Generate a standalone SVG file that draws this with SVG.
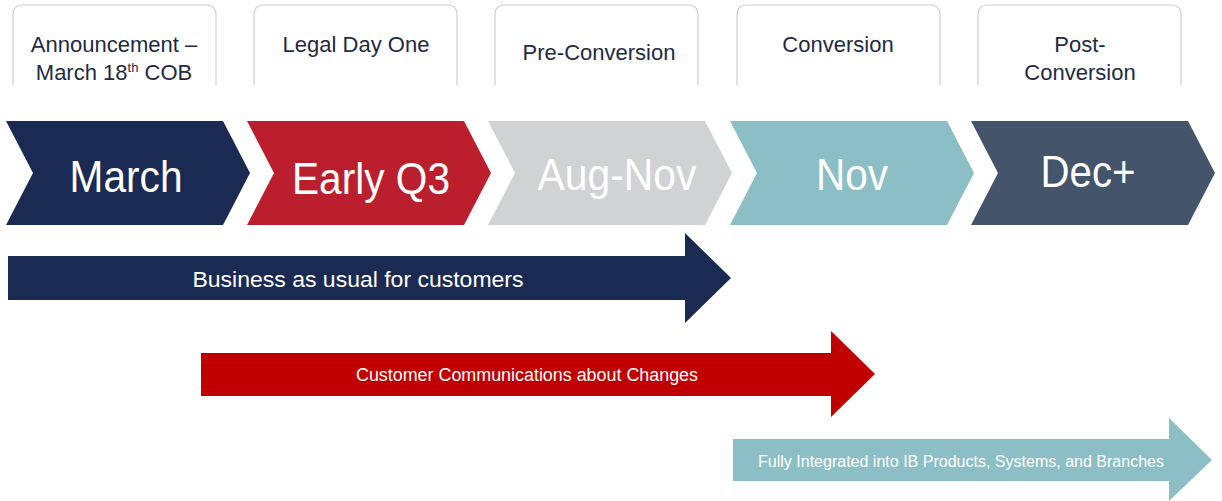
<svg xmlns="http://www.w3.org/2000/svg" width="1222" height="501" viewBox="0 0 1222 501">
<style>
.box{fill:#ffffff;stroke:#cfcfcf;stroke-width:1.2}
.lbl{font-family:"Liberation Sans",Arial,sans-serif;font-size:22px;fill:#1f2a44;text-anchor:middle}
.big{font-family:"Liberation Sans",Arial,sans-serif;font-size:45px;fill:#ffffff;text-anchor:middle}
.arr{font-family:"Liberation Sans",Arial,sans-serif;fill:#ffffff;text-anchor:middle}
</style>
<rect width="1222" height="501" fill="#ffffff"/>
<g id="box-announcement">
<path class="box" d="M13,85 V15 Q13,5 23,5 H206 Q216,5 216,15 V85"/>
<text class="lbl" x="114" y="52">Announcement –</text>
<text class="lbl" x="114" y="80">March 18<tspan font-size="13" dy="-8">th</tspan><tspan dy="8"> COB</tspan></text>
</g>
<g id="box-legal">
<path class="box" d="M254,85 V15 Q254,5 264,5 H447 Q457,5 457,15 V85"/>
<text class="lbl" x="356" y="52">Legal Day One</text>
</g>
<g id="box-preconv">
<path class="box" d="M495,85 V15 Q495,5 505,5 H688 Q698,5 698,15 V85"/>
<text class="lbl" x="599" y="60">Pre-Conversion</text>
</g>
<g id="box-conv">
<path class="box" d="M737,85 V15 Q737,5 747,5 H930 Q940,5 940,15 V85"/>
<text class="lbl" x="838" y="52">Conversion</text>
</g>
<g id="box-postconv">
<path class="box" d="M978,85 V15 Q978,5 988,5 H1171 Q1181,5 1181,15 V85"/>
<text class="lbl" x="1080" y="52">Post-</text>
<text class="lbl" x="1080" y="80">Conversion</text>
</g>
<g id="chev-march">
<polygon points="6,121 223,121 250,173 223,225 6,225 33,173" fill="#1b2a52"/>
<text class="big" x="126" y="192" textLength="113" lengthAdjust="spacingAndGlyphs">March</text>
</g>
<g id="chev-earlyq3">
<polygon points="247,121 464,121 491,173 464,225 247,225 274,173" fill="#bb1f2e"/>
<text class="big" x="371" y="194" textLength="158" lengthAdjust="spacingAndGlyphs">Early Q3</text>
</g>
<g id="chev-augnov">
<polygon points="488,121 705,121 732,173 705,225 488,225 515,173" fill="#d1d2d4"/>
<text class="big" x="617" y="190" textLength="159" lengthAdjust="spacingAndGlyphs">Aug-Nov</text>
</g>
<g id="chev-nov">
<polygon points="730,121 947,121 974,173 947,225 730,225 757,173" fill="#8bbfc5"/>
<text class="big" x="852" y="190" textLength="72" lengthAdjust="spacingAndGlyphs">Nov</text>
</g>
<g id="chev-dec">
<polygon points="971,121 1188,121 1215,173 1188,225 971,225 998,173" fill="#44546a"/>
<text class="big" x="1088" y="187" textLength="95" lengthAdjust="spacingAndGlyphs">Dec+</text>
</g>
<g id="arrow-bau">
<polygon points="8,256 685,256 685,233 731,278 685,323 685,300 8,300" fill="#1b2a52"/>
<text class="arr" x="358" y="287" font-size="22" textLength="331" lengthAdjust="spacingAndGlyphs">Business as usual for customers</text>
</g>
<g id="arrow-comms">
<polygon points="201,353 831,353 831,331 875,374 831,417 831,396 201,396" fill="#c00000"/>
<text class="arr" x="527" y="381" font-size="18" textLength="342" lengthAdjust="spacingAndGlyphs">Customer Communications about Changes</text>
</g>
<g id="arrow-integrated">
<polygon points="733,439 1169,439 1169,418 1212,460 1169,501 1169,481 733,481" fill="#8bbfc5"/>
<text class="arr" x="961" y="467" font-size="16" textLength="406" lengthAdjust="spacingAndGlyphs">Fully Integrated into IB Products, Systems, and Branches</text>
</g>
</svg>
